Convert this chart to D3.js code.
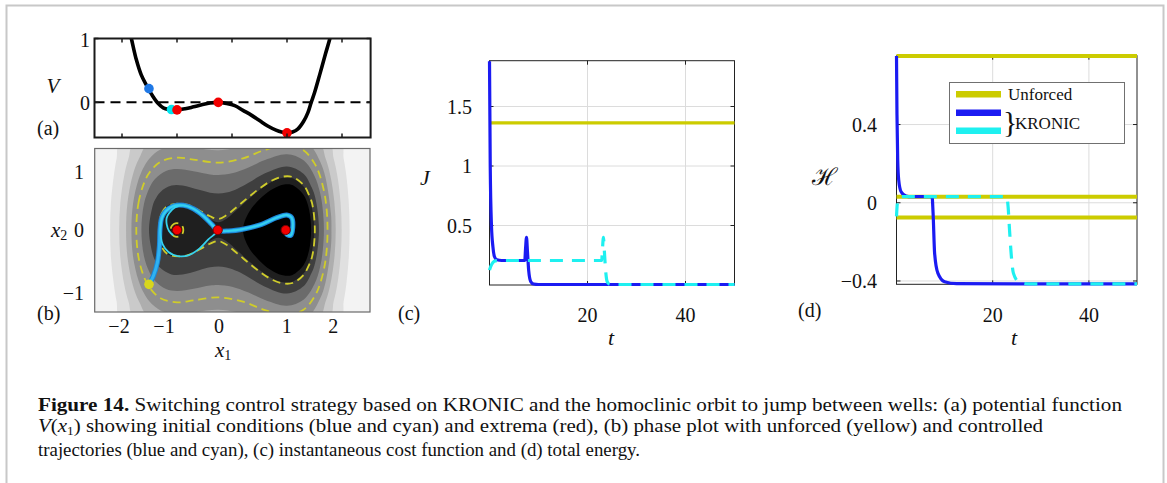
<!DOCTYPE html>
<html><head><meta charset="utf-8">
<script src="https://cdn.jsdelivr.net/npm/d3@7"></script>
<style>
body{margin:0;background:#fff}
svg{display:block}
text{font-family:'Liberation Serif','Times New Roman',serif;fill:#111}
</style></head>
<body><svg id="fig" width="1167" height="483"></svg>
<script>
// ================= DATA =================
// (a) potential V(x1)
const potentialX=[-1.9,-1.83,-1.74,-1.65,-1.55,-1.45,-1.35,-1.25,-1.15,-1.0,-0.85,-0.7,-0.55,-0.4,-0.25,-0.1,0.05,0.2,0.35,0.5,0.65,0.8,0.9,1.0,1.1,1.2,1.3,1.38,1.44,1.5,1.6,1.7,1.78,1.85];
const potentialV=[1.25,1.0,0.67,0.43,0.26,0.11,-0.01,-0.085,-0.11,-0.118,-0.1,-0.07,-0.038,-0.01,0.0,-0.016,-0.05,-0.125,-0.2,-0.285,-0.37,-0.435,-0.465,-0.478,-0.465,-0.415,-0.3,-0.16,0.0,0.15,0.45,0.76,1.0,1.25];
const initX=[-1.51,-1.1];          // blue, cyan initial conditions
const initV=[0.215,-0.112];
const extremaX=[-1.0,-0.25,1.0];
const extremaV=[-0.118,0.0,-0.478];
const aXTicks=[-2,-1,0,1,2];
const aYTicks=[0,1];

// (b) phase plane: filled energy bands (upper halves, symmetric in x2)
const bandLevels=[3.2,2.1,1.45,1.05,0.5,0.22,0.01,-0.1];
const band32=[[-2.216,0],[-2.201,0.5],[-2.147,1.0],[-2.098,1.3],[-2.021,1.6],[1.965,1.6],[2.03,1.3],[2.077,1.0],[2.123,0.5],[2.138,0]];
const band21=[[-2.052,0],[-2.03,0.5],[-1.958,1.0],[-1.882,1.3],[-1.762,1.6],[1.754,1.6],[1.848,1.3],[1.913,1.0],[1.974,0.5],[1.994,0]];
const band145=[[-1.926,0],[-1.9,0.5],[-1.804,1.0],[-1.69,1.3],[-1.475,1.6],[1.561,1.6],[1.702,1.3],[1.786,1.0],[1.862,0.5],[1.886,0]];
const band105=[[-1.829,0],[-1.8,0.475],[-1.7,0.919],[-1.6,1.152],[-1.5,1.301],[-1.3,1.463],[-1.0,1.526],[-0.7,1.497],[-0.25,1.449],[0.2,1.517],[0.6,1.65],[1.0,1.731],[1.4,1.563],[1.6,1.251],[1.7,0.953],[1.8,0.286],[1.808,0]];
const band05=[[-1.647,0],[-1.6,0.477],[-1.5,0.769],[-1.4,0.927],[-1.2,1.074],[-1.0,1.108],[-0.7,1.068],[-0.4,1.01],[-0.25,1.0],[0.0,1.03],[0.3,1.137],[0.6,1.273],[1.0,1.377],[1.3,1.268],[1.5,0.984],[1.6,0.681],[1.65,0.374],[1.671,0]];
const band022=[[-1.509,0],[-1.45,0.407],[-1.4,0.548],[-1.3,0.693],[-1.1,0.807],[-0.9,0.81],[-0.6,0.731],[-0.4,0.678],[-0.25,0.663],[-0.1,0.68],[0.1,0.75],[0.3,0.857],[0.6,1.03],[1.0,1.156],[1.3,1.024],[1.45,0.772],[1.5,0.639],[1.55,0.395],[1.581,0]];
const band001=[[-1.333,0],[-1.3,0.245],[-1.2,0.417],[-1.0,0.498],[-0.8,0.449],[-0.6,0.338],[-0.4,0.2],[-0.25,0.141],[-0.1,0.205],[0.1,0.377],[0.3,0.56],[0.5,0.728],[0.7,0.863],[0.9,0.944],[1.0,0.957],[1.1,0.942],[1.3,0.792],[1.4,0.603],[1.45,0.42],[1.497,0]];
const bandM01=[[0.2,0],[0.3,0.307],[0.5,0.557],[0.7,0.724],[0.9,0.82],[1.0,0.834],[1.1,0.817],[1.3,0.639],[1.4,0.379],[1.438,0]];
// unforced orbits (yellow dashed), upper halves
const orbitOuter=[[-1.74,0],[-1.7,0.494],[-1.6,0.853],[-1.5,1.045],[-1.3,1.241],[-1.0,1.315],[-0.7,1.281],[-0.25,1.225],[0.2,1.304],[0.6,1.457],[1.0,1.548],[1.3,1.452],[1.5,1.212],[1.6,0.982],[1.7,0.555],[1.737,0]];
const orbitMiddle=[[-1.33,0],[-1.28,0.3],[-1.18,0.43],[-1.0,0.48],[-0.8,0.455],[-0.6,0.36],[-0.4,0.25],[-0.25,0.2],[-0.1,0.27],[0.1,0.429],[0.3,0.597],[0.5,0.756],[0.7,0.887],[0.9,0.966],[1.1,0.964],[1.3,0.818],[1.4,0.637],[1.46,0.47],[1.506,0]];
const orbitInner=[[-1.115,0],[-1.1,0.065],[-1.058,0.11],[-1.0,0.125],[-0.942,0.11],[-0.9,0.065],[-0.885,0]];
// controlled trajectories
const blueTrajX1=[-1.509,-1.43,-1.357,-1.32,-1.309,-1.278,-1.205,-1.065,-0.884,-0.702,-0.52,-0.369,-0.26,-0.065,0.236,0.54,0.813,0.995,1.085,1.104,1.067,0.995,0.976];
const blueTrajX2=[-0.988,-0.836,-0.594,-0.291,0.012,0.224,0.345,0.436,0.449,0.387,0.255,0.103,-0.006,-0.018,0.024,0.103,0.224,0.273,0.224,0.042,-0.097,-0.079,-0.006];
const cyanTrajX1=[-1.07,-1.145,-1.187,-1.187,-1.138,-1.04,-0.884,-0.702,-0.52,-0.369,-0.26,-0.43,-0.611,-0.793,-0.987,-1.156,-1.26,-1.296,-1.3,-1.27,-1.2,-1.065,-0.884,-0.702,-0.52,-0.369,-0.26,-0.065,0.236,0.54,0.813,0.995,1.085,1.104,1.067,0.995,0.976];
const cyanTrajX2=[-0.097,-0.018,0.103,0.224,0.315,0.41,0.449,0.387,0.255,0.103,-0.006,-0.17,-0.352,-0.461,-0.473,-0.4,-0.261,-0.109,0.05,0.22,0.34,0.436,0.449,0.387,0.255,0.103,-0.006,-0.018,0.024,0.103,0.224,0.273,0.224,0.042,-0.097,-0.079,-0.006];
const fixedX1=[-1.0,-0.26,0.976];
const fixedX2=[0,0,0];
const startX1=[-1.509];
const startX2=[-0.988];
const bXTicks=[-2,-1,0,1,2];
const bYTicks=[1,0,-1];

// (c) instantaneous cost
const tUnforced=[0,50];
const jUnforced=[1.363,1.363];
const tJBlue=[0,0.15,0.4,0.7,1.0,1.5,2.5,7.2,7.35,7.55,7.75,8.0,8.4,9.0,10,50];
const jBlue=[1.88,1.0,0.5,0.32,0.24,0.212,0.206,0.206,0.3,0.40,0.28,0.12,0.03,0.008,0.004,0.004];
const tJCyan=[0,0.3,0.7,1.2,2.0,22.9,23.05,23.25,23.45,23.7,24.0,24.4,25,50];
const jCyan=[0.125,0.16,0.19,0.203,0.206,0.206,0.3,0.40,0.28,0.12,0.03,0.008,0.004,0.004];
const cXTicks=[20,40];
const cYTicks=[0.5,1,1.5];

// (d) total energy
const hUnforced=[0.75,0.031,-0.075];
const tHBlue=[0,0.1,0.25,0.46,0.96,2,3,7.4,7.6,7.93,8.6,10,12.5,50];
const hBlue=[0.75,0.45,0.22,0.116,0.056,0.034,0.031,0.031,-0.05,-0.26,-0.36,-0.404,-0.414,-0.415];
const tHCyan=[0,0.15,0.4,1,22.9,23.2,23.5,23.9,24.3,25.4,27.5,50];
const hCyan=[-0.07,-0.01,0.02,0.031,0.031,-0.02,-0.14,-0.28,-0.36,-0.404,-0.415,-0.415];
const dXTicks=[20,40];
const dYTicks=[-0.4,0,0.4];
const legendLabels=['Unforced','KRONIC'];

// ================= STYLE =================
const BLUE='#1b1bf2', CYAN='#1ef0f0', YEL='#cccc00';
const bandColors=['#e0e0e0','#cacaca','#aeaeae','#8e8e8e','#6b6b6b','#3f3f3f','#1f1f1f','#000000'];
const FS=20;

const svg=d3.select('#fig');
svg.append('rect').attr('x',6.5).attr('y',5.5).attr('width',1157).attr('height',520)
  .attr('fill','none').attr('stroke','#c8c8c8').attr('stroke-width',2);

function label(x,y,txt,opts={}){
  const t=svg.append('text').attr('x',x).attr('y',y).attr('font-size',opts.size||FS)
    .attr('text-anchor',opts.anchor||'start').attr('dominant-baseline','central');
  if(opts.italic) t.attr('font-style','italic');
  if(opts.family) t.style('font-family',opts.family);
  t.text(txt); return t;
}
const zip=(a,b)=>a.map((v,i)=>[v,b[i]]);
const fmt=v=>v<0?'\u2212'+Math.abs(v):String(v);

// ================= (a) =================
const xA=d3.scaleLinear().domain([-2.5,2.52]).range([94.5,370.6]);
const yA=d3.scaleLinear().domain([-0.55,1.0]).range([137.5,38.5]);
svg.append('clipPath').attr('id','clipA').append('rect')
  .attr('x',xA.range()[0]).attr('y',yA.range()[1]).attr('width',xA.range()[1]-xA.range()[0]).attr('height',yA.range()[0]-yA.range()[1]);
const gA=svg.append('g');
gA.append('line').attr('x1',xA.range()[0]).attr('x2',xA.range()[1]).attr('y1',yA(0)).attr('y2',yA(0))
  .attr('stroke','#000').attr('stroke-width',2).attr('stroke-dasharray','10,6');
gA.append('path').attr('clip-path','url(#clipA)')
  .attr('d',d3.line().x(d=>xA(d[0])).y(d=>yA(d[1])).curve(d3.curveCatmullRom.alpha(0.5))(zip(potentialX,potentialV)))
  .attr('fill','none').attr('stroke','#000').attr('stroke-width',3.6);
const initCol=['#1f78e6','#00e4ee'];
gA.selectAll('.ic').data(zip(initX,initV)).join('circle').attr('cx',d=>xA(d[0])).attr('cy',d=>yA(d[1])).attr('r',4.8)
  .attr('fill',(d,i)=>initCol[i]);
gA.selectAll('.ex').data(zip(extremaX,extremaV)).join('circle').attr('cx',d=>xA(d[0])).attr('cy',d=>yA(d[1])).attr('r',4.8)
  .attr('fill','#f20000');
gA.append('rect').attr('x',xA.range()[0]).attr('y',yA.range()[1]).attr('width',xA.range()[1]-xA.range()[0]).attr('height',yA.range()[0]-yA.range()[1])
  .attr('fill','none').attr('stroke','#1a1a1a').attr('stroke-width',2);
aXTicks.forEach(v=>{
  gA.append('line').attr('x1',xA(v)).attr('x2',xA(v)).attr('y1',yA.range()[1]).attr('y2',yA.range()[1]+4).attr('stroke','#1a1a1a').attr('stroke-width',1.5);
  gA.append('line').attr('x1',xA(v)).attr('x2',xA(v)).attr('y1',yA.range()[0]).attr('y2',yA.range()[0]-4).attr('stroke','#1a1a1a').attr('stroke-width',1.5);
});
aYTicks.forEach(v=>{
  gA.append('line').attr('x1',xA.range()[0]).attr('x2',xA.range()[0]+4).attr('y1',yA(v)).attr('y2',yA(v)).attr('stroke','#1a1a1a').attr('stroke-width',1.5);
  gA.append('line').attr('x1',xA.range()[1]).attr('x2',xA.range()[1]-4).attr('y1',yA(v)).attr('y2',yA(v)).attr('stroke','#1a1a1a').attr('stroke-width',1.5);
  label(90,yA(v)+1,String(v),{anchor:'end'});
});
label(53,86,'V',{italic:true,size:21,anchor:'middle'});
label(37,128,'(a)');

// ================= (b) =================
const xB=xA;
const yB=d3.scaleLinear().domain([1.482,-1.491]).range([148.5,312]);
const xBAxis=d3.scaleLinear().domain(bXTicks).range([119,164,219,286.7,333.3]);
const yBAxis=d3.scaleLinear().domain(bYTicks).range([172.3,230,293.3]);
const bx0=94.7,bx1=370,by0=148.5,by1=312;
svg.append('clipPath').attr('id','clipB').append('rect').attr('x',bx0).attr('y',by0).attr('width',bx1-bx0).attr('height',by1-by0);
const gB=svg.append('g').attr('clip-path','url(#clipB)');
gB.append('rect').attr('x',bx0).attr('y',by0).attr('width',bx1-bx0).attr('height',by1-by0).attr('fill','#f3f3f3');
function ring(upper){return upper.concat(upper.slice(1,-1).reverse().map(p=>[p[0],-p[1]]));}
const closedLine=d3.line().x(d=>xB(d[0])).y(d=>yB(d[1])).curve(d3.curveCatmullRomClosed.alpha(0.5));
[band32,band21,band145,band105,band05,band022,band001,bandM01].forEach((b,i)=>{
  gB.append('path').attr('d',closedLine(ring(b))).attr('fill',bandColors[i]);
});
[orbitOuter,orbitMiddle,orbitInner].forEach(o=>{
  gB.append('path').attr('d',closedLine(ring(o))).attr('fill','none').attr('stroke','#cfcc2a')
    .attr('stroke-width',1.8).attr('stroke-dasharray','8,5');
});
const openLine=d3.line().x(d=>xB(d[0])).y(d=>yB(d[1])).curve(d3.curveCatmullRom.alpha(0.5));
gB.append('path').attr('d',openLine(zip(blueTrajX1,blueTrajX2))).attr('fill','none').attr('stroke','#1a86d8').attr('stroke-width',5).attr('stroke-linecap','round');
gB.append('path').attr('d',openLine(zip(blueTrajX1,blueTrajX2))).attr('fill','none').attr('stroke','#2fb2f2').attr('stroke-width',3).attr('stroke-linecap','round');
gB.append('path').attr('d',openLine(zip(cyanTrajX1,cyanTrajX2))).attr('fill','none').attr('stroke','#35d2ee').attr('stroke-width',1.8);
gB.selectAll('.st').data(zip(startX1,startX2)).join('circle').attr('cx',d=>xB(d[0])).attr('cy',d=>yB(d[1])).attr('r',4.8).attr('fill','#d8d61c');
gB.selectAll('.fp').data(zip(fixedX1,fixedX2)).join('circle').attr('cx',d=>xB(d[0])).attr('cy',d=>yB(d[1])).attr('r',4.6)
  .attr('fill','#f00000').attr('stroke','#7a0000').attr('stroke-width',1);
svg.append('rect').attr('x',bx0).attr('y',by0).attr('width',bx1-bx0).attr('height',by1-by0).attr('fill','none').attr('stroke','#6a6a6a').attr('stroke-width',1.2);
bXTicks.forEach(v=>label(xBAxis(v),326,fmt(v),{anchor:'middle'}));
bYTicks.forEach(v=>label(84,yBAxis(v),fmt(v),{anchor:'end'}));
(function(){const t=svg.append('text').attr('x',51).attr('y',230).attr('font-size',21).attr('dominant-baseline','central');
  t.append('tspan').attr('font-style','italic').text('x');
  t.append('tspan').attr('font-size',14).attr('dy',5).text('2');})();
(function(){const t=svg.append('text').attr('x',215).attr('y',350).attr('font-size',21).attr('dominant-baseline','central');
  t.append('tspan').attr('font-style','italic').text('x');
  t.append('tspan').attr('font-size',14).attr('dy',5).text('1');})();
label(37,313,'(b)');

// ================= line panels =================
function linePanel(o){
  const x=d3.scaleLinear().domain([0,50]).range(o.xr);
  const y=d3.scaleLinear().domain(o.yd).range(o.yr);
  const g=svg.append('g');
  o.yTicks.forEach(v=>g.append('line').attr('x1',o.xr[0]).attr('x2',o.xr[1]).attr('y1',y(v)).attr('y2',y(v)).attr('stroke','#dcdcdc').attr('stroke-width',1));
  o.xTicks.forEach(v=>g.append('line').attr('x1',x(v)).attr('x2',x(v)).attr('y1',o.yr[0]).attr('y2',o.yr[1]).attr('stroke','#dcdcdc').attr('stroke-width',1));
  g.append('rect').attr('x',o.xr[0]).attr('y',o.yr[1]).attr('width',o.xr[1]-o.xr[0]).attr('height',o.yr[0]-o.yr[1]).attr('fill','none').attr('stroke','#222').attr('stroke-width',1);
  o.yTicks.forEach(v=>{
    g.append('line').attr('x1',o.xr[0]).attr('x2',o.xr[0]+4).attr('y1',y(v)).attr('y2',y(v)).attr('stroke','#222');
    g.append('line').attr('x1',o.xr[1]).attr('x2',o.xr[1]-4).attr('y1',y(v)).attr('y2',y(v)).attr('stroke','#222');
    label(o.yLabX,y(v),fmt(v),{anchor:'end'});
  });
  o.xTicks.forEach(v=>{
    g.append('line').attr('x1',x(v)).attr('x2',x(v)).attr('y1',o.yr[0]).attr('y2',o.yr[0]-4).attr('stroke','#222');
    g.append('line').attr('x1',x(v)).attr('x2',x(v)).attr('y1',o.yr[1]).attr('y2',o.yr[1]+4).attr('stroke','#222');
    label(x(v),315,String(v),{anchor:'middle'});
  });
  const ln=d3.line().x(d=>x(d[0])).y(d=>y(d[1])).curve(d3.curveMonotoneX);
  o.unforced.forEach(s=>g.append('path').attr('d',ln(s)).attr('fill','none').attr('stroke',YEL).attr('stroke-width',o.yw));
  g.append('path').attr('d',ln(o.blue)).attr('fill','none').attr('stroke',BLUE).attr('stroke-width',3.2);
  g.append('path').attr('d',ln(o.cyan)).attr('fill','none').attr('stroke',CYAN).attr('stroke-width',3.2).attr('stroke-dasharray','13,9');
  return {x,y,g};
}
linePanel({xr:[489.5,734.5],yd:[0,1.885],yr:[285,60.7],xTicks:cXTicks,yTicks:cYTicks,yLabX:472,yw:3.2,
  unforced:[zip(tUnforced,jUnforced)],blue:zip(tJBlue,jBlue),cyan:zip(tJCyan,jCyan)});
label(425,177,'J',{italic:true,size:22,anchor:'middle'});
label(611,337,'t',{italic:true,size:22,anchor:'middle'});
label(398,313,'(c)');

linePanel({xr:[896.5,1137],yd:[-0.417,0.752],yr:[284.3,55.7],xTicks:dXTicks,yTicks:dYTicks,yLabX:877,yw:4,
  unforced:hUnforced.map(h=>[[0,h],[50,h]]),blue:zip(tHBlue,hBlue),cyan:zip(tHCyan,hCyan)});
label(824,177,'\u210B',{size:24,family:'DejaVu Serif',anchor:'middle'});
label(1014,337,'t',{italic:true,size:22,anchor:'middle'});
label(798,310,'(d)');
// legend
const lg=svg.append('g');
lg.append('rect').attr('x',949.5).attr('y',82.5).attr('width',175).attr('height',61).attr('fill','#fff').attr('stroke','#707070').attr('stroke-width',1);
[[YEL,94.3],[BLUE,112.7],[CYAN,130.7]].forEach(([c,yy])=>lg.append('line').attr('x1',956).attr('x2',1001).attr('y1',yy).attr('y2',yy).attr('stroke',c).attr('stroke-width',6.5));
label(1008,94,legendLabels[0],{size:17});
label(1003,121,'}',{size:30});
label(1015,123,legendLabels[1],{size:17});

// ================= caption =================
const cap=svg.append('g');
const l1=cap.append('text').attr('x',38).attr('y',410.5).attr('font-size',19).attr('textLength',1084).attr('lengthAdjust','spacingAndGlyphs');
l1.append('tspan').attr('font-weight','bold').text('Figure 14.');
l1.append('tspan').text(' Switching control strategy based on KRONIC and the homoclinic orbit to jump between wells: (a) potential function');
const l2=cap.append('text').attr('x',38).attr('y',432).attr('font-size',19).attr('textLength',1005).attr('lengthAdjust','spacingAndGlyphs');
l2.append('tspan').attr('font-style','italic').text('V');
l2.append('tspan').text('(');
l2.append('tspan').attr('font-style','italic').text('x');
l2.append('tspan').attr('font-size',12).attr('dy',3).text('1');
l2.append('tspan').attr('dy',-3).text(') showing initial conditions (blue and cyan) and extrema (red), (b) phase plot with unforced (yellow) and controlled');
const l3=cap.append('text').attr('x',38).attr('y',455.5).attr('font-size',19).attr('textLength',602).attr('lengthAdjust','spacingAndGlyphs');
l3.text('trajectories (blue and cyan), (c) instantaneous cost function and (d) total energy.');
</script></body></html>
